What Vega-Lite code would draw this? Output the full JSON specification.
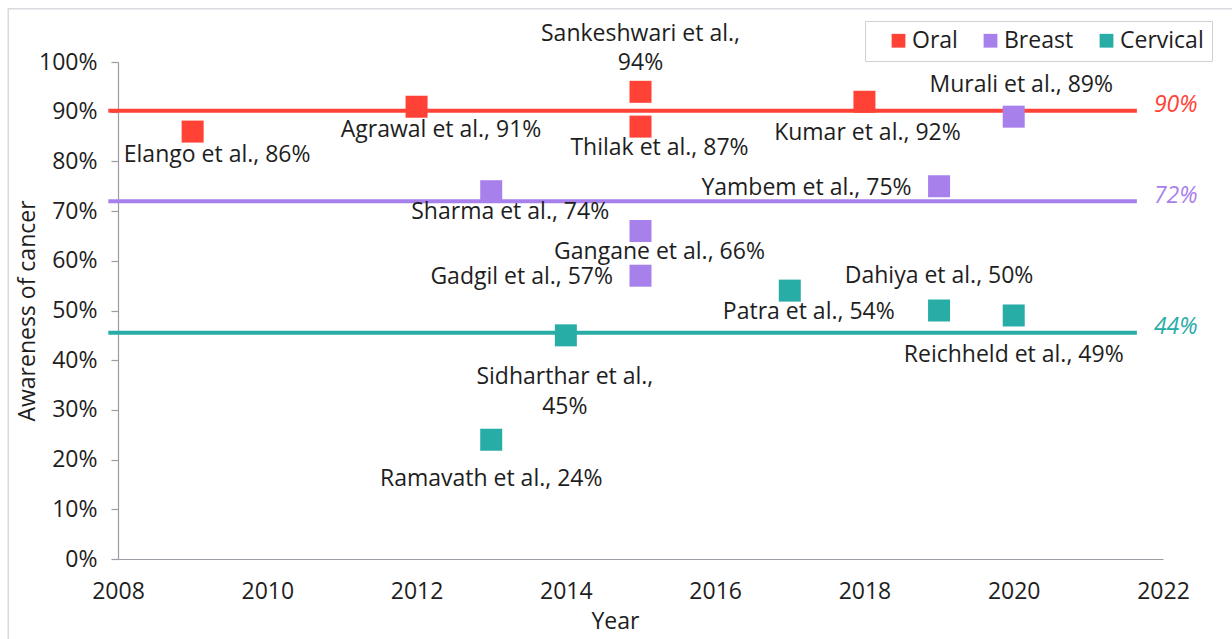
{
  "$schema": "https://vega.github.io/schema/vega-lite/v6.json",
  "width": 1045,
  "height": 497,
  "autosize": {"type": "none"},
  "padding": {"left": 118, "top": 62, "right": 69, "bottom": 80},
  "background": "white",
  "config": {
    "font": "Open Sans",
    "view": {"stroke": null},
    "text": {"font": "Open Sans"}
  },
  "resolve": {"legend": {"color": "independent"}},
  "datasets": {
    "studies": [
      {"study": "Elango", "cancer": "Oral", "year": 2009, "awareness": 86, "label": "Elango et al., 86%"},
      {"study": "Agrawal", "cancer": "Oral", "year": 2012, "awareness": 91, "label": "Agrawal et al., 91%"},
      {"study": "Sankeshwari", "cancer": "Oral", "year": 2015, "awareness": 94, "label": "Sankeshwari et al.,\n94%"},
      {"study": "Thilak", "cancer": "Oral", "year": 2015, "awareness": 87, "label": "Thilak et al., 87%"},
      {"study": "Kumar", "cancer": "Oral", "year": 2018, "awareness": 92, "label": "Kumar et al., 92%"},
      {"study": "Sharma", "cancer": "Breast", "year": 2013, "awareness": 74, "label": "Sharma et al., 74%"},
      {"study": "Gangane", "cancer": "Breast", "year": 2015, "awareness": 66, "label": "Gangane et al., 66%"},
      {"study": "Gadgil", "cancer": "Breast", "year": 2015, "awareness": 57, "label": "Gadgil et al., 57%"},
      {"study": "Yambem", "cancer": "Breast", "year": 2019, "awareness": 75, "label": "Yambem et al., 75%"},
      {"study": "Murali", "cancer": "Breast", "year": 2020, "awareness": 89, "label": "Murali et al., 89%"},
      {"study": "Sidharthar", "cancer": "Cervical", "year": 2014, "awareness": 45, "label": "Sidharthar et al.,\n45%"},
      {"study": "Ramavath", "cancer": "Cervical", "year": 2013, "awareness": 24, "label": "Ramavath et al., 24%"},
      {"study": "Patra", "cancer": "Cervical", "year": 2017, "awareness": 54, "label": "Patra et al., 54%"},
      {"study": "Dahiya", "cancer": "Cervical", "year": 2019, "awareness": 50, "label": "Dahiya et al., 50%"},
      {"study": "Reichheld", "cancer": "Cervical", "year": 2020, "awareness": 49, "label": "Reichheld et al., 49%"}
    ],
    "averages": [
      {"cancer": "Oral", "avg": 90.2, "txt": "90%"},
      {"cancer": "Breast", "avg": 72, "txt": "72%"},
      {"cancer": "Cervical", "avg": 45.5, "txt": "44%"}
    ],
    "frame": [{}]
  },
  "layer": [
    {
      "data": {"name": "frame"},
      "mark": {"type": "rect", "fill": "transparent", "stroke": "#d9d9df", "strokeWidth": 1.5},
      "encoding": {
        "x": {"datum": 2006.53, "type": "quantitative"},
        "x2": {"datum": 2030},
        "y": {"datum": 110.7, "type": "quantitative"},
        "y2": {"datum": -40}
      }
    },
    {
      "data": {"name": "averages"},
      "mark": {"type": "rule", "strokeWidth": 4},
      "encoding": {
        "y": {"field": "avg", "type": "quantitative"},
        "x": {"datum": 2007.87, "type": "quantitative"},
        "x2": {"datum": 2021.65},
        "color": {"field": "cancer", "type": "nominal", "legend": null}
      }
    },
    {
      "data": {"name": "averages"},
      "mark": {"type": "text", "fontSize": 23, "fontStyle": "italic", "align": "center", "baseline": "middle", "dy": -5.5},
      "encoding": {
        "y": {"field": "avg", "type": "quantitative"},
        "x": {"datum": 2022.17, "type": "quantitative"},
        "text": {"field": "txt"},
        "color": {"field": "cancer", "type": "nominal", "legend": null}
      }
    },
    {
      "data": {"name": "studies"},
      "transform": [{"filter": {"field": "study", "oneOf": ["Elango", "Agrawal"]}}],
      "mark": {"type": "text", "fontSize": 23, "align": "center", "baseline": "middle", "dx": 24.5, "dy": 23.5, "color": "#1e1e1e"},
      "encoding": {"x": {"field": "year", "type": "quantitative"}, "y": {"field": "awareness", "type": "quantitative"}, "text": {"field": "label"}}
    },
    {
      "data": {"name": "studies"},
      "transform": [{"filter": {"field": "study", "oneOf": ["Thilak", "Sharma", "Gangane", "Patra"]}}],
      "mark": {"type": "text", "fontSize": 23, "align": "center", "baseline": "middle", "dx": 19, "dy": 21, "color": "#1e1e1e"},
      "encoding": {"x": {"field": "year", "type": "quantitative"}, "y": {"field": "awareness", "type": "quantitative"}, "text": {"field": "label"}}
    },
    {
      "data": {"name": "studies"},
      "transform": [{"filter": {"field": "study", "oneOf": ["Ramavath", "Reichheld"]}}],
      "mark": {"type": "text", "fontSize": 23, "align": "center", "baseline": "middle", "dx": 0, "dy": 39.5, "color": "#1e1e1e"},
      "encoding": {"x": {"field": "year", "type": "quantitative"}, "y": {"field": "awareness", "type": "quantitative"}, "text": {"field": "label"}}
    },
    {
      "data": {"name": "studies"},
      "transform": [{"filter": {"field": "study", "oneOf": ["Kumar"]}}],
      "mark": {"type": "text", "fontSize": 23, "align": "center", "baseline": "middle", "dx": 3, "dy": 31, "color": "#1e1e1e"},
      "encoding": {"x": {"field": "year", "type": "quantitative"}, "y": {"field": "awareness", "type": "quantitative"}, "text": {"field": "label"}}
    },
    {
      "data": {"name": "studies"},
      "transform": [{"filter": {"field": "study", "oneOf": ["Murali"]}}],
      "mark": {"type": "text", "fontSize": 23, "align": "center", "baseline": "middle", "dx": 7.5, "dy": -32, "color": "#1e1e1e"},
      "encoding": {"x": {"field": "year", "type": "quantitative"}, "y": {"field": "awareness", "type": "quantitative"}, "text": {"field": "label"}}
    },
    {
      "data": {"name": "studies"},
      "transform": [{"filter": {"field": "study", "oneOf": ["Dahiya"]}}],
      "mark": {"type": "text", "fontSize": 23, "align": "center", "baseline": "middle", "dx": 0, "dy": -35, "color": "#1e1e1e"},
      "encoding": {"x": {"field": "year", "type": "quantitative"}, "y": {"field": "awareness", "type": "quantitative"}, "text": {"field": "label"}}
    },
    {
      "data": {"name": "studies"},
      "transform": [{"filter": {"field": "study", "oneOf": ["Gadgil", "Yambem"]}}],
      "mark": {"type": "text", "fontSize": 23, "align": "right", "baseline": "middle", "dx": -27.5, "dy": 1.5, "color": "#1e1e1e"},
      "encoding": {"x": {"field": "year", "type": "quantitative"}, "y": {"field": "awareness", "type": "quantitative"}, "text": {"field": "label"}}
    },
    {
      "data": {"name": "studies"},
      "transform": [{"filter": {"field": "study", "oneOf": ["Sankeshwari"]}}],
      "mark": {"type": "text", "fontSize": 23, "align": "center", "baseline": "middle", "lineBreak": "\n", "lineHeight": 29.5, "dx": 0, "dy": -58, "color": "#1e1e1e"},
      "encoding": {"x": {"field": "year", "type": "quantitative"}, "y": {"field": "awareness", "type": "quantitative"}, "text": {"field": "label"}}
    },
    {
      "data": {"name": "studies"},
      "transform": [{"filter": {"field": "study", "oneOf": ["Sidharthar"]}}],
      "mark": {"type": "text", "fontSize": 23, "align": "center", "baseline": "middle", "lineBreak": "\n", "lineHeight": 29.5, "dx": -1, "dy": 42, "color": "#1e1e1e"},
      "encoding": {"x": {"field": "year", "type": "quantitative"}, "y": {"field": "awareness", "type": "quantitative"}, "text": {"field": "label"}}
    },
    {
      "data": {"name": "studies"},
      "mark": {"type": "square", "size": 484, "opacity": 1},
      "encoding": {
        "x": {
          "field": "year",
          "type": "quantitative",
          "scale": {"domain": [2008, 2022], "nice": false, "zero": false},
          "axis": {
            "title": "Year",
            "values": [2008, 2010, 2012, 2014, 2016, 2018, 2020, 2022],
            "format": "d",
            "ticks": false,
            "tickSize": 0,
            "labelPadding": 21,
            "labelFlush": false,
            "labelOverlap": false,
            "labelFontSize": 23,
            "labelColor": "#1e1e1e",
            "domainColor": "#9c9ca4",
            "domainWidth": 1.2,
            "grid": false,
            "titleFontSize": 23,
            "titleFontWeight": "normal",
            "titleColor": "#1e1e1e",
            "titlePadding": 7,
            "titleX": 497
          }
        },
        "y": {
          "field": "awareness",
          "type": "quantitative",
          "scale": {"domain": [0, 100], "nice": false, "zero": true},
          "axis": {
            "title": "Awareness of cancer",
            "values": [0, 10, 20, 30, 40, 50, 60, 70, 80, 90, 100],
            "labelExpr": "datum.value + '%'",
            "tickSize": 7,
            "tickColor": "#9c9ca4",
            "tickWidth": 1.2,
            "domainColor": "#9c9ca4",
            "domainWidth": 1.2,
            "labelPadding": 14,
            "labelFlush": false,
            "labelOverlap": false,
            "labelFontSize": 23,
            "labelColor": "#1e1e1e",
            "grid": false,
            "titleFontSize": 23,
            "titleFontWeight": "normal",
            "titleColor": "#1e1e1e",
            "titlePadding": -1
          }
        },
        "color": {
          "field": "cancer",
          "type": "nominal",
          "scale": {"domain": ["Oral", "Breast", "Cervical"], "range": ["#FF4136", "#A880EC", "#28ACA6"]},
          "legend": {
            "orient": "none",
            "legendX": 747,
            "legendY": -41,
            "direction": "horizontal",
            "title": "\u00a0",
            "titleOrient": "left",
            "titleFontSize": 23,
            "titlePadding": 14,
            "symbolType": "square",
            "symbolSize": 190,
            "symbolStrokeWidth": 0,
            "symbolOpacity": 1,
            "labelFontSize": 23,
            "labelColor": "#1e1e1e",
            "labelOffset": 2,
            "columnPadding": 21,
            "padding": 8,
            "strokeColor": "#cfcfd6"
          }
        }
      }
    }
  ]
}
